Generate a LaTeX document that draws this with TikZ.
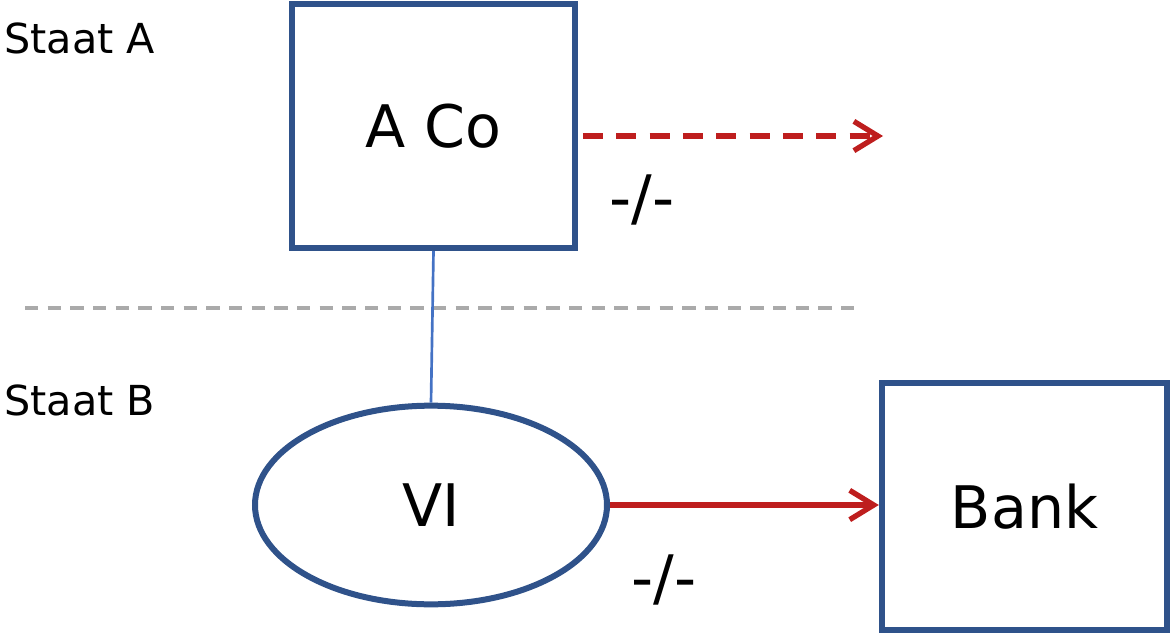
\documentclass[tikz,border=0pt]{standalone}
\usepackage{fontspec}
\setmainfont{DejaVu Sans}
\usetikzlibrary{positioning,shapes.geometric,arrows.meta}
\definecolor{rahmenblau}{RGB}{47,82,138}
\definecolor{linieblau}{RGB}{68,114,196}
\definecolor{pfeilrot}{RGB}{190,30,30}
\definecolor{trenngrau}{RGB}{170,170,170}

\begin{document}
\begin{tikzpicture}[x=0.75pt,y=-0.75pt,
    box/.style={rectangle, draw=rahmenblau, line width=4.5pt, inner sep=0pt, font=\fontsize{44}{50}\selectfont},
    staat/.style={anchor=base west, inner sep=0pt, font=\fontsize{31}{36}\selectfont},
    sperre/.style={inner sep=0pt, font=\fontsize{46}{50}\selectfont},
    pfeil/.style={draw=pfeilrot, line width=4pt, -{Straight Barb[length=18pt,width=22pt]}}]
      \useasboundingbox (0,0) rectangle (1171,635);

      % Staat A
      \node (staatA) at (4,54) [staat] {Staat A};
      \node (aco) at (433.5,126) [box, minimum width=212pt, minimum height=183pt] {A Co};
      \coordinate (ausland) at (883,136);
      \node (sperreA) at (642,200) [sperre] {-/-};

      % Trennlinie
      \coordinate (trennL) at (25,308);
      \coordinate (trennR) at (862,308);
      \draw[trenngrau, line width=2.5pt, dash pattern=on 10pt off 7pt] (trennL) -- (trennR);

      % Staat B
      \node (staatB) at (4,415) [staat] {Staat B};
      \node (vi) at (431,505) [box, ellipse, minimum width=264pt, minimum height=149pt] {VI};
      \node (bank) at (1024.5,506.5) [box, minimum width=214pt, minimum height=185pt] {Bank};
      \node (sperreB) at (664,580) [sperre] {-/-};

      % Verbindungen
      \draw[linieblau, line width=2pt] (aco.south) -- (vi.north);
      \draw[pfeil, dash pattern=on 15pt off 10pt] ([shift={(5,10)}]aco.east) -- (ausland);
      \draw[pfeil] (vi.east) -- (vi.east -| bank.west);
    \end{tikzpicture}
\end{document}
